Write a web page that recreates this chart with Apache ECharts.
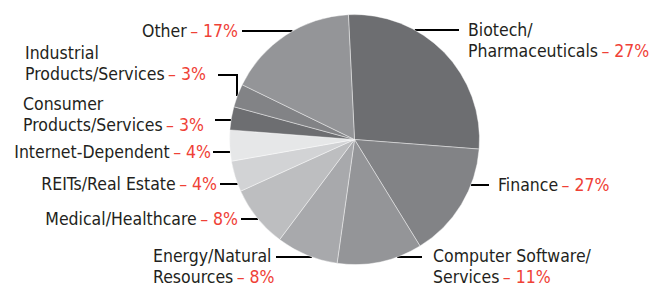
<!DOCTYPE html>
<html>
<head>
<meta charset="utf-8">
<script src="https://cdn.jsdelivr.net/npm/echarts@6/dist/echarts.min.js"></script>
<style>
  html, body { margin: 0; padding: 0; background: #fff; }
  #chart { width: 659px; height: 288px; }
</style>
</head>
<body>
<div id="chart"></div>
<script>
// sectors, clockwise from the top
const names = [
  'Biotech/\nPharmaceuticals',
  'Finance',
  'Computer Software/\nServices',
  'Energy/Natural\nResources',
  'Medical/Healthcare',
  'REITs/Real Estate',
  'Internet-Dependent',
  'Consumer\nProducts/Services',
  'Industrial\nProducts/Services',
  'Other'
]
// slice sizes as drawn
const values = [27, 15, 11, 8, 8, 4, 4, 3, 3, 17]
// percentages printed next to each label
const labelPct = [27, 27, 11, 8, 8, 4, 4, 3, 3, 17]
const colors = [
  '#6d6e71', '#828386', '#949598', '#a8a9ac', '#bdbec0',
  '#d2d3d5', '#e6e7e8', '#6d6e71', '#828386', '#949598'
]

const cx = 354.5
const cy = 139.5
const R = 125

// label placement: [x, y, align, lineY, lineEndX]
const place = [
  [468, 40, 'left', 30, 459],
  [498, 185, 'left', 185, 489],
  [433, 266, 'left', 257, 422],
  [153, 266, 'left', 257, 276],
  [238, 219, 'right', 219, 241],
  [217, 184, 'right', 184, 220],
  [211, 152, 'right', 152, 213],
  [23, 114, 'left', 120, 215],
  [25, 63, 'left', 75, 218],
  [238, 31, 'right', 31, 242]
]

// pick a narrow face if there is one
function pickFont() {
  const ctx = document.createElement('canvas').getContext('2d')
  const test = 'Internet-Dependent – 4%'
  ctx.font = '17px monospace'
  const base = ctx.measureText(test).width
  const list = ['Liberation Sans Narrow', 'DejaVu Sans Condensed', 'Roboto Condensed', 'Arial Narrow', 'Roboto']
  for (const f of list) {
    ctx.font = '17px "' + f + '", monospace'
    const w = ctx.measureText(test).width
    if (Math.abs(w - base) > 0.5) {
      const size = Math.max(15, Math.min(17.5, 17 * 206 / w))
      return { family: f, size: size }
    }
  }
  return { family: 'sans-serif', size: 16 }
}
const font = pickFont()

function edgeX(y, side) {
  const dy = y - cy
  return cx + side * Math.sqrt(R * R - dy * dy)
}

const chart = echarts.init(document.getElementById('chart'), null, { renderer: 'svg' })
chart.setOption({
  animation: false,
  color: colors,
  series: [
    {
      type: 'pie',
      center: [cx, cy],
      radius: [0, R],
      startAngle: 92.8,
      clockwise: true,
      avoidLabelOverlap: false,
      silent: true,
      data: names.map((n, i) => ({ name: n, value: values[i] })),
      itemStyle: {
        borderColor: 'rgba(255,255,255,0.7)',
        borderWidth: 0.6
      },
      label: {
        show: true,
        position: 'outside',
        fontFamily: font.family,
        formatter: p => {
          const parts = p.name.split('\n')
          const last = parts.pop()
          const head = parts.map(s => '{n|' + s + '}')
          head.push('{n|' + last + '} {p|– ' + labelPct[p.dataIndex] + '%}')
          return head.join('\n')
        },
        rich: {
          n: { fontSize: font.size, fontFamily: font.family, color: '#231f20', lineHeight: 21 },
          p: { fontSize: font.size, fontFamily: font.family, color: '#ef4136', lineHeight: 21 }
        }
      },
      labelLine: {
        show: true,
        lineStyle: { color: '#000', width: 2 }
      },
      labelLayout: params => {
        const i = params.dataIndex
        const pl = place[i]
        const side = pl[0] > cx ? 1 : -1
        const ly = pl[3]
        let pts
        if (i === 8) {
          // elbow line for Industrial
          pts = [[pl[4], ly], [237, ly], [237, 96]]
        } else {
          pts = [[pl[4], ly], [edgeX(ly, side), ly]]
        }
        return {
          x: pl[0],
          y: pl[1],
          align: pl[2],
          verticalAlign: 'middle',
          labelLinePoints: pts
        }
      }
    }
  ]
})
</script>
</body>
</html>
